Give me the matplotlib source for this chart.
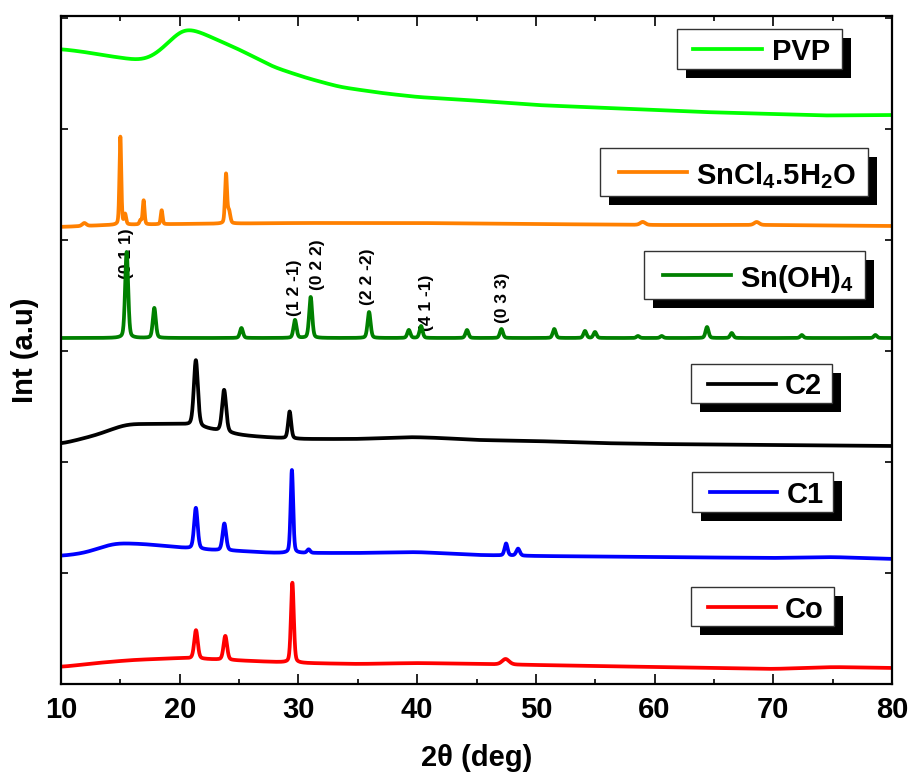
import numpy as np
import matplotlib
matplotlib.use("Agg")
import matplotlib.pyplot as plt
from matplotlib.patches import Rectangle
from matplotlib.lines import Line2D
from matplotlib.ticker import MultipleLocator

plt.rcParams["font.family"] = ["Liberation Sans", "DejaVu Sans"]
plt.rcParams["font.weight"] = "bold"
plt.rcParams["mathtext.fontset"] = "custom"
plt.rcParams["mathtext.rm"] = "Liberation Sans:bold"
plt.rcParams["mathtext.bf"] = "Liberation Sans:bold"
plt.rcParams["mathtext.default"] = "bf"

# ---------------- data (stacked intensities, arbitrary units) ----------------
two_theta = np.linspace(10, 80, 7001)

# Co
co_bg_x = [10, 13, 16, 20, 26, 30, 35, 40, 45, 50, 55, 60, 65, 70, 75, 80]
co_bg_y = [17, 21, 24, 26, 23, 21, 20, 21, 20, 19, 18, 17, 16, 15, 17, 16]
co_pk_pos = [21.37, 23.84, 29.49, 47.45]
co_pk_h = [28.5, 24, 80, 5.5]
co_pk_w = [0.35, 0.35, 0.28, 0.7]

# C1
c1_bg_x = [10, 12, 14.5, 17, 20.5, 22.5, 25, 28, 30, 35, 40, 45, 50, 60, 70, 75, 80]
c1_bg_y = [128, 131, 141, 140, 136, 134, 133, 131, 131, 131, 132, 129, 128, 127, 126, 127, 125]
c1_pk_pos = [21.36, 23.76, 29.45, 30.86, 47.49, 48.5]
c1_pk_h = [41, 27, 83, 3.5, 12, 7]
c1_pk_w = [0.35, 0.35, 0.25, 0.3, 0.3, 0.35]

# C2
c2_bg_x = [10, 13, 15.5, 18, 20.5, 22.5, 25, 27, 30, 35, 39.5, 42, 45, 50, 55, 60, 70, 80]
c2_bg_y = [240, 249, 260, 260, 260, 255, 249, 247, 245, 245, 247, 246, 244, 243, 241, 240, 239, 238]
c2_pk_pos = [21.36, 23.74, 29.26]
c2_pk_h = [66, 42, 27]
c2_pk_w = [0.4, 0.4, 0.3]

# Sn(OH)4
sn_bg_x = [10, 80]
sn_bg_y = [346, 346]
sn_pk_pos = [15.53, 17.86, 25.2, 29.71, 31.03, 35.95, 39.3, 40.33, 44.2, 47.1,
             51.55, 54.14, 54.98, 58.6, 60.6, 64.42, 66.5, 72.4, 78.6]
sn_pk_h = [86, 30, 10, 18, 41, 26, 8, 12, 8, 9, 9, 7, 6, 2, 2, 11, 5, 3, 3]
sn_pk_w = [0.3] * len(sn_pk_pos)

# SnCl4.5H2O
cl_bg_x = [10, 14, 20, 30, 40, 50, 60, 70, 80]
cl_bg_y = [457, 459, 460, 461, 461, 460, 459, 459, 458]
cl_pk_pos = [11.96, 15.0, 15.4, 16.7, 16.96, 18.48, 23.9, 24.15, 59.0, 68.6]
cl_pk_h = [3, 88, 10, 4, 24, 14, 49, 12, 3, 3]
cl_pk_w = [0.4, 0.18, 0.2, 0.2, 0.18, 0.18, 0.2, 0.25, 0.5, 0.5]

# PVP (broad amorphous halo)
pvp_x = [10, 12, 14, 16.4, 17.5, 18.5, 19.5, 20.3, 21.5, 23, 25.1, 27.9, 30.7,
         33.5, 37, 40, 44.2, 50, 54, 60, 64, 70, 74, 80]
pvp_y = [635, 632, 628, 624, 626, 635, 647, 656, 653, 645, 634, 617, 606,
         597, 591, 587, 584, 579, 577, 574, 572, 570, 568.5, 569]

# Miller indices marked on Sn(OH)4 reflections
hkl_text = ["(0 1 1)", "(1 2 -1)", "(0 2 2)", "(2 2 -2)", "(4 1 -1)", "(0 3 3)"]
hkl_x = [15.55, 29.7, 31.57, 35.86, 40.75, 47.2]
hkl_y = [430, 396.5, 419, 407, 381.5, 386.5]


def gauss_smooth(y, sigma_deg):
    step = two_theta[1] - two_theta[0]
    s = sigma_deg / step
    half = int(4 * s)
    k = np.exp(-0.5 * (np.arange(-half, half + 1) / s) ** 2)
    k /= k.sum()
    pad = np.pad(y, (half, half), mode="edge")
    return np.convolve(pad, k, mode="valid")


def pattern(bg_x, bg_y, pos, h, w, eta=0.3):
    y = gauss_smooth(np.interp(two_theta, bg_x, bg_y), 0.7)
    for c, a, f in zip(pos, h, w):
        s = f / 2.3548
        g = np.exp(-0.5 * ((two_theta - c) / s) ** 2)
        l = 1.0 / (1.0 + ((two_theta - c) / (f / 2)) ** 2)
        y = y + a * (eta * l + (1 - eta) * g)
    return y


series = [
    ("Co", "#ff0000", pattern(co_bg_x, co_bg_y, co_pk_pos, co_pk_h, co_pk_w)),
    ("C1", "#0000ff", pattern(c1_bg_x, c1_bg_y, c1_pk_pos, c1_pk_h, c1_pk_w)),
    ("C2", "#000000", pattern(c2_bg_x, c2_bg_y, c2_pk_pos, c2_pk_h, c2_pk_w)),
    (r"Sn(OH)$_4$", "#008000", pattern(sn_bg_x, sn_bg_y, sn_pk_pos, sn_pk_h, sn_pk_w)),
    (r"SnCl$_4$.5H$_2$O", "#ff8000", pattern(cl_bg_x, cl_bg_y, cl_pk_pos, cl_pk_h, cl_pk_w)),
    ("PVP", "#00ff00", gauss_smooth(np.interp(two_theta, pvp_x, pvp_y), 0.6)),
]

# ---------------- figure ----------------
W, H = 911, 775
fig = plt.figure(figsize=(W / 100, H / 100), dpi=100)
ax = fig.add_axes([61 / W, 1 - 684 / H, (892 - 61) / W, (684 - 16) / H])

for x, y, t in zip(hkl_x, hkl_y, hkl_text):
    ax.text(x, y, t, rotation=90, ha="center", va="center", fontsize=12.5,
            fontweight="bold", zorder=1)

for name, color, y in series:
    ax.plot(two_theta, y, color=color, lw=2.7, zorder=2, solid_joinstyle="round")

ax.set_xlim(10, 80)
ax.set_ylim(0, 668)
ax.xaxis.set_major_locator(MultipleLocator(10))
ax.xaxis.set_minor_locator(MultipleLocator(5))
ax.yaxis.set_major_locator(MultipleLocator(111))
ax.tick_params(which="both", direction="in", top=True, right=True, width=1.2)
ax.tick_params(which="major", length=7)
ax.tick_params(which="minor", length=3.5)
ax.tick_params(axis="y", which="major", length=5)
ax.tick_params(axis="x", labelsize=21, pad=9)
ax.tick_params(axis="y", labelleft=False)
for lab in ax.get_xticklabels():
    lab.set_fontweight("bold")
for sp in ax.spines.values():
    sp.set_linewidth(1.6)

ax.set_xlabel(r"2θ (deg)", fontsize=21, fontweight="bold", labelpad=14)
ax.set_ylabel("Int (a.u)", fontsize=21, fontweight="bold", labelpad=16)

# ---------------- legend keys with drop shadows ----------------
keys = {
    "PVP": ((677, 29, 842, 69), (693, 762), 772),
    r"SnCl$_4$.5H$_2$O": ((600, 148, 868, 196), (619, 687), 696),
    r"Sn(OH)$_4$": ((644, 251, 865, 299), (663, 731), 740),
    "C2": ((691, 364, 832, 403), (708, 776), 785),
    "C1": ((692, 472, 833, 512), (710, 777), 787),
    "Co": ((691, 587, 834, 626), (708, 776), 785),
}


def fx(px):
    return px / W


def fy(py):
    return 1 - py / H


for name, color, _ in series:
    (x0, y0, x1, y1), (lx0, lx1), tx = keys[name]
    shadow = Rectangle((fx(x0 + 9), fy(y1 + 9)), fx(x1) - fx(x0), fy(y0) - fy(y1),
                       transform=fig.transFigure, facecolor="black",
                       edgecolor="none", zorder=5)
    box = Rectangle((fx(x0), fy(y1)), fx(x1) - fx(x0), fy(y0) - fy(y1),
                    transform=fig.transFigure, facecolor="white",
                    edgecolor="#333333", lw=1.0, zorder=6)
    fig.add_artist(shadow)
    fig.add_artist(box)
    ym = (y0 + y1) / 2
    fig.add_artist(Line2D([fx(lx0), fx(lx1)], [fy(ym), fy(ym)],
                          transform=fig.transFigure, color=color, lw=2.7, zorder=7))
    fig.text(fx(tx), fy(ym), name, ha="left", va="center_baseline", fontsize=21,
             fontweight="bold", zorder=8)

fig.savefig("out.png", dpi=100)
